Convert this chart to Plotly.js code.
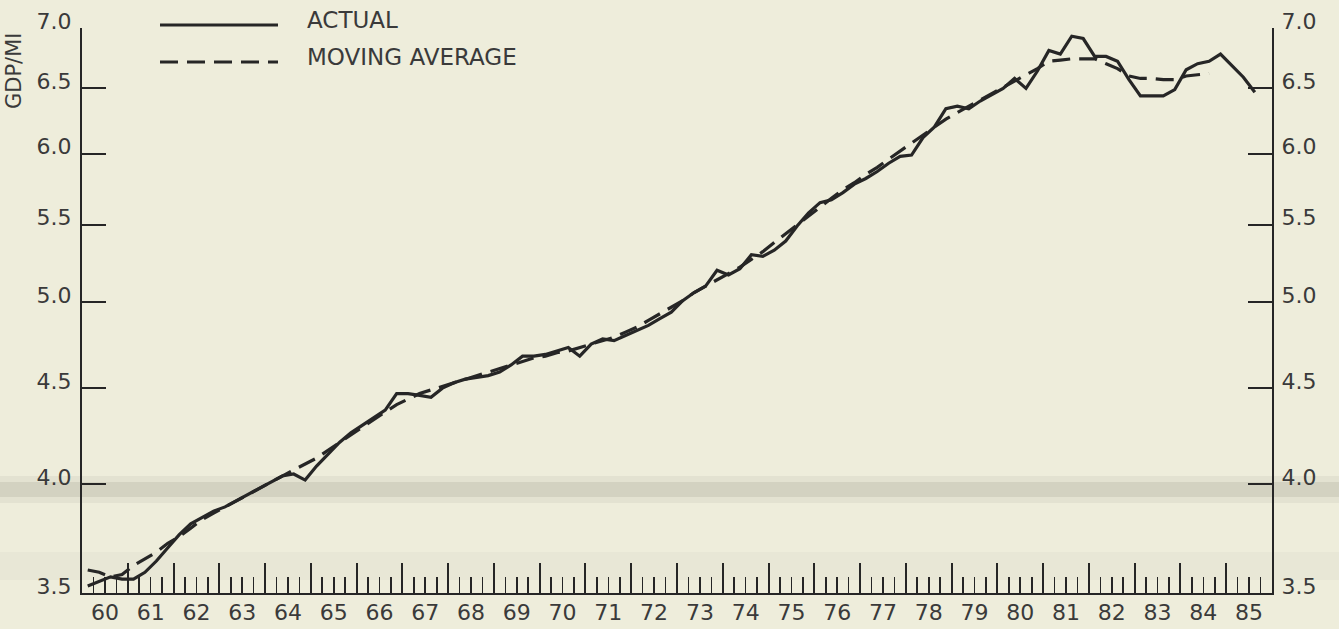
<!DOCTYPE html>
<html>
<head>
<meta charset="utf-8">
<script src="https://cdn.plot.ly/plotly-3.0.1.min.js"></script>
<style>
  html, body { margin: 0; padding: 0; background: #eeeddb; }
  #chart { width: 1339px; height: 629px; }
</style>
</head>
<body>
<div id="chart"></div>
<script>
// Quarterly GDP per unit (GDP/MI), 1960Q1 onward
const startYear = 1960;
const actual = [
  3.53, 3.55, 3.57, 3.56,   // 1960
  3.56, 3.59, 3.64, 3.70,   // 1961
  3.76, 3.81, 3.84, 3.87,   // 1962
  3.89, 3.92, 3.95, 3.98,   // 1963
  4.01, 4.04, 4.05, 4.02,   // 1964
  4.09, 4.15, 4.21, 4.26,   // 1965
  4.30, 4.34, 4.38, 4.47,   // 1966
  4.47, 4.46, 4.45, 4.50,   // 1967
  4.53, 4.55, 4.56, 4.57,   // 1968
  4.59, 4.63, 4.68, 4.68,   // 1969
  4.69, 4.71, 4.73, 4.68,   // 1970
  4.75, 4.78, 4.77, 4.80,   // 1971
  4.83, 4.86, 4.90, 4.94,   // 1972
  5.01, 5.06, 5.10, 5.20,   // 1973
  5.17, 5.21, 5.30, 5.29,   // 1974
  5.33, 5.39, 5.49, 5.58,   // 1975
  5.65, 5.67, 5.72, 5.78,   // 1976
  5.82, 5.87, 5.93, 5.98,   // 1977
  5.99, 6.12, 6.20, 6.34,   // 1978
  6.36, 6.34, 6.40, 6.45,   // 1979
  6.50, 6.58, 6.50, 6.64,   // 1980
  6.81, 6.78, 6.93, 6.91,   // 1981
  6.76, 6.76, 6.72, 6.57,   // 1982
  6.44, 6.44, 6.44, 6.49,   // 1983
  6.65, 6.70, 6.72, 6.78,   // 1984
  6.68, 6.59, 6.47          // 1985
];
const movingAverage = [
  3.60, 3.59, 3.57, 3.58,   // 1960
  3.62, 3.65, 3.68, 3.72,   // 1961
  3.75, 3.79, 3.83, 3.86,   // 1962
  3.89, 3.92, 3.95, 3.98,   // 1963
  4.01, 4.04, 4.07, 4.10,   // 1964
  4.13, 4.17, 4.21, 4.25,   // 1965
  4.29, 4.33, 4.37, 4.41,   // 1966
  4.44, 4.47, 4.49, 4.51,   // 1967
  4.53, 4.55, 4.57, 4.59,   // 1968
  4.61, 4.63, 4.65, 4.67,   // 1969
  4.68, 4.70, 4.71, 4.73,   // 1970
  4.75, 4.77, 4.79, 4.82,   // 1971
  4.85, 4.89, 4.93, 4.97,   // 1972
  5.01, 5.06, 5.10, 5.14,   // 1973
  5.18, 5.22, 5.27, 5.32,   // 1974
  5.38, 5.44, 5.50, 5.56,   // 1975
  5.62, 5.68, 5.74, 5.79,   // 1976
  5.85, 5.90, 5.96, 6.02,   // 1977
  6.08, 6.14, 6.20, 6.26,   // 1978
  6.31, 6.36, 6.41, 6.46,   // 1979
  6.51, 6.56, 6.61, 6.66,   // 1980
  6.72, 6.73, 6.74, 6.74,   // 1981
  6.74, 6.70, 6.66, 6.60,   // 1982
  6.58, 6.58, 6.57, 6.57,   // 1983
  6.60, 6.61, 6.62          // 1984
];
const yTickVals = [3.5, 4.0, 4.5, 5.0, 5.5, 6.0, 6.5, 7.0];
const yTickText = ['3.5', '4.0', '4.5', '5.0', '5.5', '6.0', '6.5', '7.0'];
const yearLabels = ['60','61','62','63','64','65','66','67','68','69','70','71','72',
                    '73','74','75','76','77','78','79','80','81','82','83','84','85'];
const legendNames = ['ACTUAL', 'MOVING AVERAGE'];
const yTitle = 'GDP/MI';

// each quarter is plotted at its midpoint
const quarterX = n => Array.from({length: n}, (_, i) => startYear + (i + 0.5) / 4);
const yearStarts = yearLabels.map((_, i) => startYear + i).concat([startYear + yearLabels.length]);
const yearMids = yearLabels.map((_, i) => startYear + i + 0.5);

const ink = '#262626';
const textInk = '#3a3a3a';
const tickFont = {family: 'DejaVu Sans, sans-serif', size: 22, color: textInk};
const xRange = [startYear, startYear + yearLabels.length];
const yRange = [Math.log10(3.5), Math.log10(7.0)];

// the dashed series sits on the twin axes (same ranges), which also draws
// the right-hand scale and the year labels
const traces = [
  {
    x: quarterX(actual.length), y: actual, type: 'scatter', mode: 'lines',
    name: legendNames[0], showlegend: false, xaxis: 'x', yaxis: 'y',
    line: {color: ink, width: 3.2}
  },
  {
    x: quarterX(movingAverage.length), y: movingAverage, type: 'scatter', mode: 'lines',
    name: legendNames[1], showlegend: false, xaxis: 'x2', yaxis: 'y2',
    line: {color: ink, width: 3.2, dash: '18px,9px'}
  }
];

const yCommon = {
  type: 'log', range: yRange, tickmode: 'array',
  tickvals: yTickVals, ticktext: yTickText,
  ticks: 'inside', ticklen: 24, tickwidth: 2, tickcolor: ink,
  showline: true, linecolor: ink, linewidth: 2,
  showgrid: false, zeroline: false, tickfont: tickFont,
  ticklabelshift: -7, fixedrange: true
};

const layout = {
  width: 1339, height: 629,
  margin: {l: 82, r: 67, t: 28, b: 36},
  paper_bgcolor: '#eeeddb', plot_bgcolor: 'rgba(0,0,0,0)',
  showlegend: false,
  xaxis: {
    range: xRange, tickmode: 'array', tickvals: yearStarts,
    showticklabels: false,
    ticks: 'inside', ticklen: 30, tickwidth: 2, tickcolor: ink,
    minor: {dtick: 0.25, tick0: startYear, ticks: 'inside', ticklen: 16,
            tickwidth: 1.6, tickcolor: ink, showgrid: false},
    showline: true, linecolor: ink, linewidth: 2,
    showgrid: false, zeroline: false, fixedrange: true
  },
  xaxis2: {
    range: xRange, overlaying: 'x', anchor: 'y2', side: 'bottom',
    tickmode: 'array', tickvals: yearMids, ticktext: yearLabels,
    ticks: '', showline: false, showgrid: false, zeroline: false,
    ticklabelstandoff: 4,
    tickfont: tickFont, fixedrange: true
  },
  yaxis: Object.assign({side: 'left', ticklabelstandoff: 4}, yCommon),
  yaxis2: Object.assign({side: 'right', overlaying: 'y', anchor: 'x2', ticklabelstandoff: 3}, yCommon),
  shapes: [
    // scanner streaks across the sheet
    {type: 'rect', xref: 'paper', yref: 'paper', x0: -0.08, x1: 1.08,
     y0: (593 - 503) / 565, y1: (593 - 476) / 565, layer: 'below',
     fillcolor: 'rgba(120,120,108,0.09)', line: {width: 0}},
    {type: 'rect', xref: 'paper', yref: 'paper', x0: -0.08, x1: 1.08,
     y0: (593 - 497) / 565, y1: (593 - 482) / 565, layer: 'below',
     fillcolor: 'rgba(110,110,100,0.14)', line: {width: 0}},
    {type: 'rect', xref: 'paper', yref: 'paper', x0: -0.08, x1: 1.08,
     y0: (593 - 580) / 565, y1: (593 - 552) / 565, layer: 'below',
     fillcolor: 'rgba(140,140,128,0.05)', line: {width: 0}},
    // legend samples
    {type: 'line', xref: 'paper', yref: 'paper',
     x0: (160 - 82) / 1190, x1: (278 - 82) / 1190,
     y0: (593 - 25) / 565, y1: (593 - 25) / 565,
     line: {color: ink, width: 3}},
    {type: 'line', xref: 'paper', yref: 'paper',
     x0: (160 - 82) / 1190, x1: (278 - 82) / 1190,
     y0: (593 - 62) / 565, y1: (593 - 62) / 565,
     line: {color: ink, width: 3, dash: '18px,9px'}}
  ],
  annotations: [
    {text: legendNames[0], xref: 'paper', yref: 'paper',
     x: (305 - 82) / 1190, y: (593 - 20) / 565, xanchor: 'left', yanchor: 'middle',
     showarrow: false, font: {family: 'DejaVu Sans, sans-serif', size: 23, color: textInk}},
    {text: legendNames[1], xref: 'paper', yref: 'paper',
     x: (305 - 82) / 1190, y: (593 - 57) / 565, xanchor: 'left', yanchor: 'middle',
     showarrow: false, font: {family: 'DejaVu Sans, sans-serif', size: 23, color: textInk}},
    {text: yTitle, xref: 'paper', yref: 'paper', textangle: -90,
     x: (14 - 82) / 1190, y: (593 - 71) / 565, xanchor: 'center', yanchor: 'middle',
     showarrow: false, font: {family: 'DejaVu Sans, sans-serif', size: 21, color: textInk}}
  ]
};

Plotly.newPlot('chart', traces, layout, {displayModeBar: false, staticPlot: true});
</script>
</body>
</html>
